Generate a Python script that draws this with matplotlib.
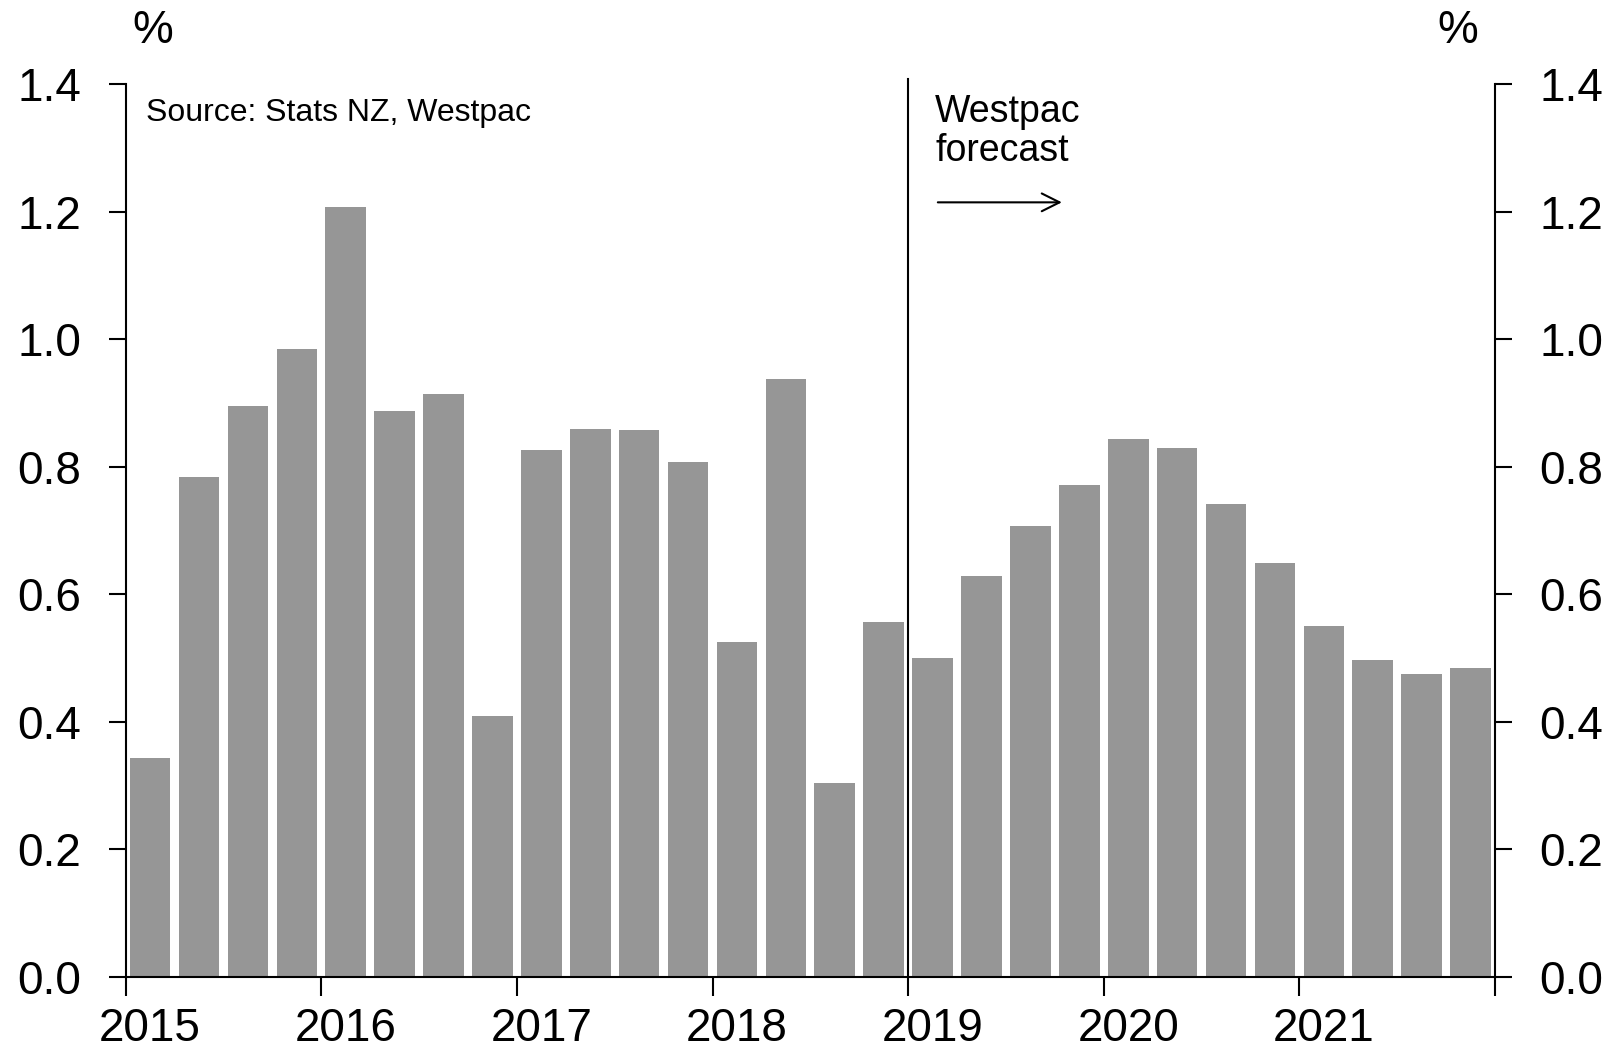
import numpy as np
import matplotlib.pyplot as plt

plt.rcParams['font.family'] = ['Liberation Sans', 'DejaVu Sans']

# quarterly values, 2015 Q1 .. 2021 Q4 (from 2019 Q1 on: Westpac forecast)
years = ['2015', '2016', '2017', '2018', '2019', '2020', '2021']
values = [0.344, 0.784, 0.896, 0.985, 1.207, 0.887, 0.914, 0.410,
          0.827, 0.859, 0.858, 0.808, 0.525, 0.938, 0.304, 0.557,
          0.500, 0.629, 0.708, 0.772, 0.843, 0.830, 0.742, 0.649,
          0.550, 0.497, 0.475, 0.484]
forecast_start = 16   # index of 2019 Q1
yticks = [0.0, 0.2, 0.4, 0.6, 0.8, 1.0, 1.2, 1.4]

fig = plt.figure(figsize=(16.11, 10.55), dpi=100)
ax = fig.add_axes([0.078, 0.074, 0.850, 0.846])

x = np.arange(len(values)) + 0.5
ax.bar(x, values, width=0.83, color='#969696', zorder=2)

ax.set_xlim(0, len(values))
ax.set_ylim(0, 1.4)

# year boundaries as ticks, labels under the first quarter of each year
ax.set_xticks(np.arange(0, len(values) + 1, 4))
ax.set_xticklabels([])
ax.set_xticks(np.arange(len(years)) * 4 + 0.5, minor=True)
ax.set_xticklabels(years, minor=True)
ax.tick_params(axis='x', which='major', direction='out', length=14, width=1.5)
ax.tick_params(axis='x', which='minor', length=0, pad=22, labelsize=33)

ax.set_yticks(yticks)
ax.set_yticklabels(['%.1f' % v for v in yticks])
ax.tick_params(axis='y', direction='out', length=12, width=1.5, pad=20,
               labelsize=33, left=True, right=True, labelleft=True, labelright=True)

ax.spines['top'].set_visible(False)
for s in ['left', 'right', 'bottom']:
    ax.spines[s].set_linewidth(1.5)

ax.axvline(forecast_start, ymin=0, ymax=1.006, color='black', lw=1.5, clip_on=False, zorder=3)

ax.text(0.42, 1.355, 'Source: Stats NZ, Westpac', fontsize=23, va='center', ha='left')
ax.text(16.55, 1.385, 'Westpac\nforecast', fontsize=27, va='top', ha='left', linespacing=1.1)
ax.annotate('', xy=(19.2, 1.215), xytext=(16.55, 1.215),
            arrowprops=dict(arrowstyle='->', color='black', lw=1.5, mutation_scale=32))

fig.text(0.095, 0.971, '%', fontsize=33, ha='center', va='center')
fig.text(0.905, 0.971, '%', fontsize=33, ha='center', va='center')

fig.savefig('out.png', dpi=100)
